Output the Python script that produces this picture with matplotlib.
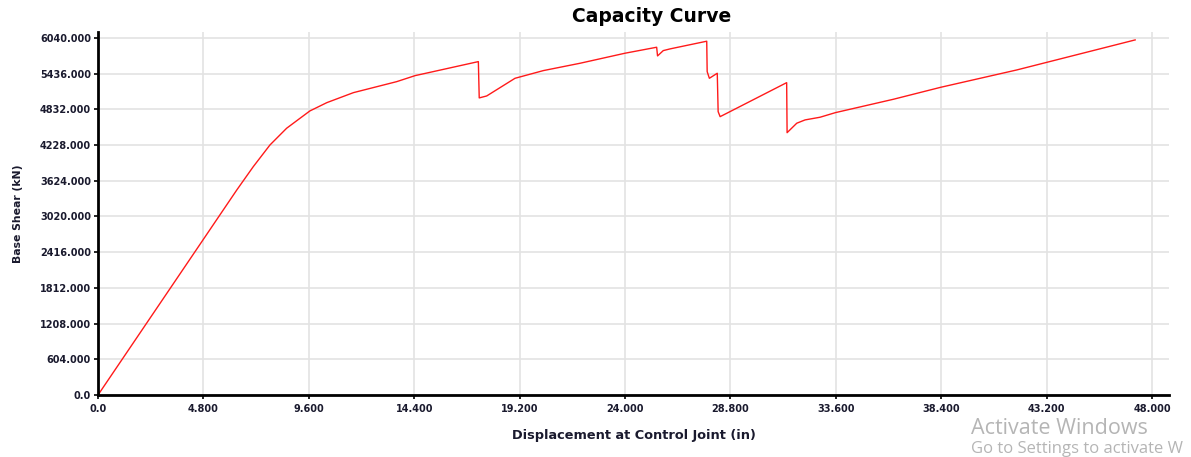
import matplotlib
matplotlib.use("Agg")
import matplotlib.pyplot as plt
from matplotlib.ticker import FixedLocator, FuncFormatter

plt.rcParams["font.family"] = ["DejaVu Sans"]

# %% Capacity curve values
displacement = [0.0, 6.32, 7.07, 7.83, 8.59, 9.20, 9.65, 10.42, 11.63, 13.60,
                14.44, 15.27, 17.32, 17.36, 17.70, 18.99, 20.28, 21.95, 24.00,
                25.44, 25.48, 25.74, 26.05, 27.72, 27.74, 27.84, 28.20, 28.24,
                28.33, 28.78, 31.36, 31.38, 31.82, 32.20, 32.88, 33.58, 36.22,
                38.38, 41.84, 47.23]
base_shear = [0.0, 3468, 3862, 4229, 4512, 4681, 4805, 4945, 5114, 5300,
              5402, 5470, 5639, 5025, 5058, 5357, 5487, 5611, 5781,
              5882, 5735, 5825, 5854, 5984, 5470, 5357, 5442, 4793,
              4708, 4793, 5283, 4437, 4597, 4653, 4698, 4776, 5002,
              5205, 5498, 6006]

x_ticks = [0.0, 4.8, 9.6, 14.4, 19.2, 24.0, 28.8, 33.6, 38.4, 43.2, 48.0]
y_ticks = [0.0, 604, 1208, 1812, 2416, 3020, 3624, 4228, 4832, 5436, 6040]


def tick_fmt(v, pos):
    if v == 0:
        return "0.0"
    return "%.3f" % v


fig = plt.figure(figsize=(11.91, 4.57), dpi=100)
ax = fig.add_axes([0.0823, 0.1357, 0.8992, 0.7943])

ax.plot(displacement, base_shear, color="#ff1a1a", lw=1.0)

ax.set_xlim(0, 48.77)
ax.set_ylim(0, 6140)
ax.xaxis.set_major_locator(FixedLocator(x_ticks))
ax.yaxis.set_major_locator(FixedLocator(y_ticks))
ax.xaxis.set_major_formatter(FuncFormatter(tick_fmt))
ax.yaxis.set_major_formatter(FuncFormatter(tick_fmt))

ax.grid(True, color="#e3e3e3", lw=1.2)
ax.set_axisbelow(True)
for side in ["top", "right"]:
    ax.spines[side].set_visible(False)
for side in ["left", "bottom"]:
    ax.spines[side].set_linewidth(2.0)
    ax.spines[side].set_color("black")
ax.tick_params(length=3, width=1.2, labelsize=7, colors="black")
ax.tick_params(axis="y", pad=2)
ax.tick_params(axis="x", pad=3.5)
for lab in ax.get_xticklabels() + ax.get_yticklabels():
    lab.set_fontweight("bold")
    lab.set_color("#1a1a2e")

ax.set_xlabel("Displacement at Control Joint (in)", fontsize=9.3, fontweight="bold",
              color="#1a1a2e", labelpad=11)
ax.set_ylabel("Base Shear (kN)", fontsize=7.8, fontweight="bold", color="#1a1a2e",
              labelpad=12)
fig.text(0.547, 0.964, "Capacity Curve", ha="center", va="center", fontsize=13.5,
         fontweight="bold")

# watermark in the screenshot
fig.text(0.815, 0.063, "Activate Windows", fontsize=15.5, color="#b5b5b5",
         ha="left", va="center", family=["Open Sans", "DejaVu Sans"])
fig.text(0.815, 0.017, "Go to Settings to activate W", fontsize=12,
         color="#b5b5b5", ha="left", va="center", family=["Open Sans", "DejaVu Sans"])

fig.savefig("out.png", dpi=100)
